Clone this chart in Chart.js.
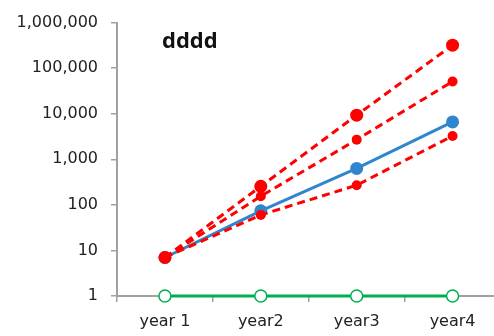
<!DOCTYPE html>
<html><head><meta charset="utf-8">
<script src="https://cdn.jsdelivr.net/npm/chart.js@4"></script>
<style>html,body{margin:0;padding:0;background:#fff;overflow:hidden}canvas{display:block}</style>
</head><body><canvas id="c" width="508" height="336"></canvas>
<script>
const categories = ['year 1', 'year2', 'year3', 'year4'];
const redHigh = [7, 255, 9300, 320000];
const redMid = [7, 155, 2700, 51000];
const blueMain = [7, 74, 630, 6600];
const redLow = [7, 60, 270, 3250];
const greenBase = [1, 1, 1, 1];
const yTicks = [1, 10, 100, 1000, 10000, 100000, 1000000];
const titleText = 'dddd';

const FONT = 'DejaVu Sans';
const titlePlugin = {
  id: 'innerTitle',
  afterDraw(chart) {
    const ctx = chart.ctx;
    ctx.save();
    ctx.font = 'bold 22px "Open Sans"';
    ctx.fillStyle = '#111';
    ctx.textBaseline = 'middle';
    ctx.textAlign = 'left';
    ctx.fillText(titleText, 162, 42);
    ctx.restore();
  }
};
const red = '#ff0000';
function redDs(data, r, order) {
  return { data, borderColor: red, backgroundColor: red, borderWidth: 3, borderDash: [8, 5],
    pointRadius: r, pointBorderWidth: 0, pointBackgroundColor: red, order, clip: false };
}
new Chart(document.getElementById('c'), {
  type: 'line',
  data: {
    labels: categories,
    datasets: [
      redDs(redHigh, 6.5, 1),
      redDs(redMid, 5, 1),
      redDs(redLow, 5, 1),
      { data: blueMain, borderColor: '#2f86cc', backgroundColor: '#2f86cc', borderWidth: 3,
        pointRadius: 6.5, pointBorderWidth: 0, order: 2, clip: false },
      { data: greenBase, borderColor: '#00b050', backgroundColor: '#fff', borderWidth: 3,
        pointRadius: 6, pointBorderWidth: 1.5, pointBorderColor: '#00b050', pointBackgroundColor: '#fff', order: 3, clip: false }
    ]
  },
  options: {
    responsive: false, maintainAspectRatio: false, animation: false,
    layout: { padding: { top: 20, left: 0, right: 2, bottom: 0 } },
    plugins: { legend: { display: false }, tooltip: { enabled: false }, title: { display: false } },
    scales: {
      x: {
        offset: true,
        grid: { offset: true, drawOnChartArea: false, drawTicks: true, tickLength: 6, color: '#a0a0a0', lineWidth: 1.5 },
        border: { color: '#a0a0a0', width: 2 },
        ticks: { font: { family: FONT, size: 16 }, color: '#222', padding: 10, maxRotation: 0 },
        afterFit(s) { s.height = 40; s.paddingLeft = 0; s.paddingRight = 0; }
      },
      y: {
        type: 'logarithmic', min: 1, max: 1000000,
        afterBuildTicks(s) { s.ticks = yTicks.map(v => ({ value: v })); },
        grid: { drawOnChartArea: false, drawTicks: true, tickLength: 6, color: '#a0a0a0', lineWidth: 1.5 },
        border: { color: '#a0a0a0', width: 2 },
        ticks: { font: { family: FONT, size: 16 }, color: '#222', padding: 13,
          callback: v => Number(v).toLocaleString('en-US') },
        afterFit(s) { s.width = 117; }
      }
    }
  },
  plugins: [titlePlugin]
});
</script>
</body></html>
